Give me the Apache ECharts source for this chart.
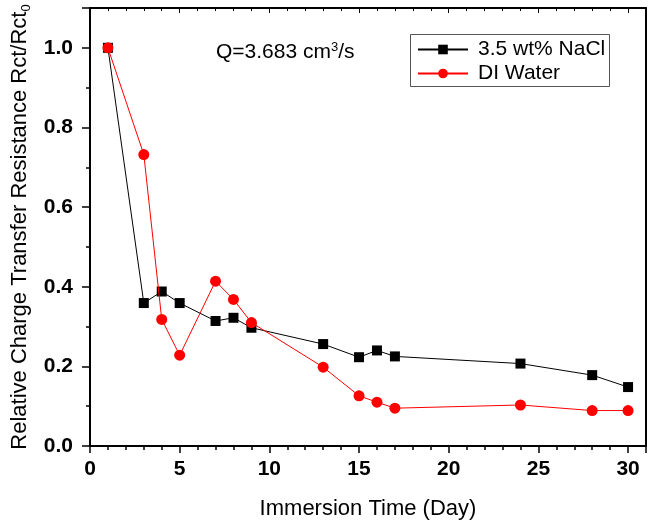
<!DOCTYPE html>
<html>
<head>
<meta charset="utf-8">
<script src="https://cdn.jsdelivr.net/npm/echarts@6/dist/echarts.min.js"></script>
<style>html,body{margin:0;padding:0;background:#fff}#c{width:649px;height:525px}</style>
</head>
<body>
<div id="c"></div>
<script>
var days = [1, 3, 4, 5, 7, 8, 9, 13, 15, 16, 17, 24, 28, 30];
var nacl = [1.0, 0.359, 0.388, 0.359, 0.314, 0.322, 0.297, 0.256, 0.223, 0.240, 0.225, 0.207, 0.178, 0.148];
var diWater = [1.0, 0.732, 0.318, 0.228, 0.414, 0.368, 0.310, 0.198, 0.126, 0.110, 0.095, 0.103, 0.089, 0.089];
var seriesNames = ['3.5 wt% NaCl', 'DI Water'];
var xTitle = 'Immersion Time (Day)';
var yTitle = 'Relative Charge Transfer Resistance Rct/Rct';
var note = 'Q=3.683 cm';

var FONT = '"Liberation Sans", Arial, sans-serif';
function pairs(xs, ys) { return xs.map(function (x, i) { return [x, ys[i]]; }); }

var chart = echarts.init(document.getElementById('c'));
chart.setOption({
  animation: false,
  backgroundColor: '#fff',
  grid: { left: 90, right: 3, top: 8, bottom: 76, containLabel: false },
  xAxis: [{
    type: 'value', min: 0, max: 31, interval: 5,
    axisLine: { onZero: false, lineStyle: { color: '#000', width: 2 } },
    axisTick: { inside: false, length: 7, lineStyle: { color: '#000', width: 1.5 } },
    minorTick: { show: true, splitNumber: 5, length: 4, lineStyle: { color: '#000', width: 1.5 } },
    splitLine: { show: false },
    axisLabel: { color: '#000', fontFamily: FONT, fontWeight: 'bold', fontSize: 21, margin: 13,
      formatter: function (v) { return v > 30 ? '' : String(v); } },
    name: xTitle, nameLocation: 'middle', nameGap: 52,
    nameTextStyle: { color: '#000', fontFamily: FONT, fontSize: 22 }
  }, {
    type: 'value', position: 'top', min: 0, max: 31, interval: 5,
    axisLine: { show: true, onZero: false, lineStyle: { color: '#000', width: 2 } },
    axisTick: { inside: true, length: 5, lineStyle: { color: '#000', width: 1 } },
    minorTick: { show: true, splitNumber: 5, length: 3, lineStyle: { color: '#000', width: 1 } },
    axisLabel: { show: false }, splitLine: { show: false }
  }],
  yAxis: [{
    type: 'value', min: 0, max: 1.1, interval: 0.2,
    axisLine: { show: true, onZero: false, lineStyle: { color: '#000', width: 2 } },
    axisTick: { inside: false, length: 8, lineStyle: { color: '#000', width: 1.5 } },
    minorTick: { show: true, splitNumber: 2, length: 4, lineStyle: { color: '#000', width: 1.5 } },
    splitLine: { show: false },
    axisLabel: { color: '#000', fontFamily: FONT, fontWeight: 'bold', fontSize: 21, margin: 17,
      formatter: function (v) { return v > 1.05 ? '' : v.toFixed(1); } },
    name: '{a|' + yTitle + '}{s|0}', nameLocation: 'middle', nameGap: 57,
    nameTextStyle: { color: '#000', fontFamily: FONT, fontSize: 22,
      rich: { a: { fontFamily: FONT, fontSize: 22, color: '#000' },
              s: { fontFamily: FONT, fontSize: 13, color: '#000', padding: [12, 0, 0, 0] } } }
  }, {
    type: 'value', position: 'right', min: 0, max: 1.1,
    axisLine: { show: true, onZero: false, lineStyle: { color: '#000', width: 2 } },
    axisTick: { show: false }, axisLabel: { show: false }, splitLine: { show: false }
  }],
  legend: {
    orient: 'vertical', left: 417, top: 39, padding: 0,
    itemWidth: 50, itemHeight: 12, itemGap: 3,
    textStyle: { color: '#000', fontFamily: FONT, fontSize: 21, padding: [0, 0, 0, 5] },
    data: seriesNames
  },
  graphic: [
    { type: 'rect', shape: { x: 410.5, y: 34.5, width: 199, height: 52 },
      style: { fill: 'none', stroke: '#555', lineWidth: 1 }, z: 10 },
    { type: 'text', left: 216, top: 41,
      style: { text: '{a|' + note + '}{s|3}{a|/s}', fill: '#000',
        rich: { a: { fontFamily: FONT, fontSize: 21, fill: '#000' },
                s: { fontFamily: FONT, fontSize: 13, fill: '#000', padding: [0, 0, 10, 0] } } } }
  ],
  series: [{
    name: seriesNames[0], type: 'line', data: pairs(days, nacl),
    symbol: 'rect', symbolSize: 10,
    itemStyle: { color: '#000' }, lineStyle: { color: '#000', width: 1 }, z: 3
  }, {
    name: seriesNames[1], type: 'line', data: pairs(days, diWater),
    symbol: 'circle', symbolSize: 11,
    itemStyle: { color: '#ff0000' }, lineStyle: { color: '#ff0000', width: 1 }, z: 4
  }]
});
</script>
</body>
</html>
